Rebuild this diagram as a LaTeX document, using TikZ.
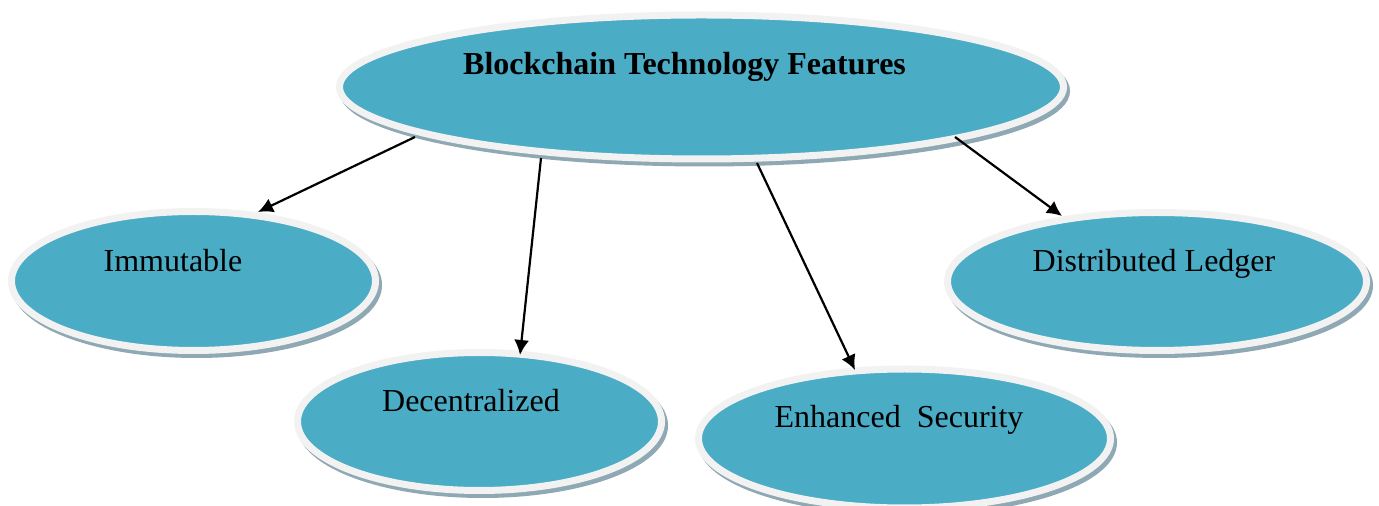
\documentclass[tikz,border=0pt]{standalone}
\usepackage{fontspec}
\setmainfont{Liberation Serif}
\usetikzlibrary{shapes.geometric,arrows.meta,shadows,calc}
\definecolor{featfill}{HTML}{4BACC6}
\definecolor{featring}{HTML}{F2F2F2}
\definecolor{featshade}{HTML}{8FA9B4}
\tikzset{
  bubble/.style 2 args={ellipse, fill=featfill, draw=featring, line width=3.5pt,
    inner sep=0pt, minimum width=#1pt, minimum height=#2pt,
    drop shadow={shadow xshift=1.5pt, shadow yshift=-2pt, fill=featshade,
      draw=featshade, line width=3.5pt, opacity=1}},
  caption/.style={anchor=base, inner sep=0pt, font=\fontsize{16}{19}\selectfont},
  link/.style={line width=1.1pt, -{Latex[length=7.5pt,width=7.5pt]}}
}
\begin{document}
\begin{tikzpicture}[x=0.5pt, y=-0.5pt]
  \useasboundingbox (0,0) rectangle (1379,506);
  \clip (0,0) rectangle (1379,506);

  % feature bubbles
  \node[bubble={362}{72}]   (main) at (701.5,87)  {};
  \node[bubble={182}{69.5}] (imm)  at (193.5,281) {};
  \node[bubble={182}{69}]   (dec)  at (479.5,421.5) {};
  \node[bubble={206}{69.5}] (enh)  at (904.5,438.5) {};
  \node[bubble={209.5}{69}] (dist) at (1157,281.5) {};

  % captions
  \node[caption, font=\fontsize{16}{19}\selectfont\bfseries] (tmain) at (684.5,75) {Blockchain Technology Features};
  \node[caption] (timm)  at (173,272) {Immutable};
  \node[caption] (tdec)  at (471,412) {Decentralized};
  \node[caption] (tenh)  at (899,428) {Enhanced\ \ Security};
  \node[caption] (tdist) at (1154,272) {Distributed Ledger};

  % where the connectors leave the top bubble and meet the others
  \coordinate (s1) at ($(main.center)+(-286.5,50)$);
  \coordinate (s2) at ($(main.center)+(-160.5,71)$);
  \coordinate (s3) at ($(main.center)+(55.5,76)$);
  \coordinate (s4) at ($(main.center)+(253.5,50)$);
  \coordinate (e1) at ($(imm.center)+(64.5,-69)$);
  \coordinate (e2) at ($(dec.center)+(40.5,-66.5)$);
  \coordinate (e3) at ($(enh.center)+(-49.5,-68.5)$);
  \coordinate (e4) at ($(dist.center)+(-95,-65.5)$);

  % connectors
  \draw[link] (s1) -- (e1);
  \draw[link] (s2) -- (e2);
  \draw[link] (s3) -- (e3);
  \draw[link] (s4) -- (e4);
\end{tikzpicture}
\end{document}
